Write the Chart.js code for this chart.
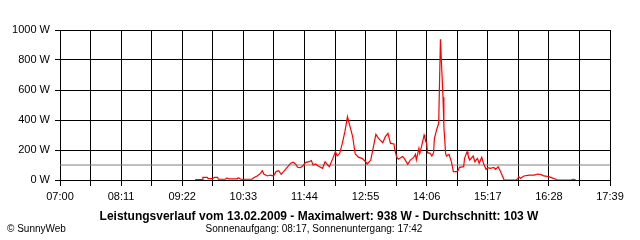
<!DOCTYPE html>
<html lang="de">
<head>
<meta charset="UTF-8">
<title>Leistungsverlauf</title>
<script src="https://cdn.jsdelivr.net/npm/chart.js"></script>
<style>
  body { margin: 0; background: #fff; }
  canvas { display: block; }
</style>
</head>
<body>
<canvas id="chart" width="640" height="240"></canvas>
<script>
// x axis labels (every second grid line carries one)
const tickLabels = ['07:00', '08:11', '09:22', '10:33', '11:44', '12:55', '14:06', '15:17', '16:28', '17:39'];
const yTicks = [0, 200, 400, 600, 800, 1000];

// power readings
const times = [
  '09:37', '09:45', '09:46', '09:51', '09:52', '09:57', '10:00', '10:03', '10:04', '10:12',
  '10:14', '10:16', '10:26', '10:27', '10:30', '10:43', '10:45', '10:49', '10:53', '10:55',
  '10:57', '11:01', '11:04', '11:08', '11:11', '11:14', '11:17', '11:22', '11:28', '11:31',
  '11:34', '11:36', '11:39', '11:42', '11:45', '11:49', '11:52', '11:54', '11:57', '12:00',
  '12:05', '12:08', '12:11', '12:13', '12:17', '12:20', '12:22', '12:25', '12:28', '12:31',
  '12:33', '12:34', '12:36', '12:40', '12:43', '12:47', '12:51', '12:55', '12:57', '13:01',
  '13:03', '13:07', '13:10', '13:15', '13:18', '13:21', '13:24', '13:28', '13:29', '13:31',
  '13:33', '13:38', '13:40', '13:44', '13:47', '13:51', '13:53', '13:54', '13:57', '13:58',
  '14:00', '14:03', '14:04', '14:06', '14:07', '14:10', '14:12', '14:14', '14:15', '14:18',
  '14:20', '14:21', '14:22', '14:23', '14:25', '14:26', '14:28', '14:29', '14:32', '14:35',
  '14:37', '14:41', '14:43', '14:44', '14:49', '14:50', '14:53', '14:54', '14:56', '15:00',
  '15:02', '15:05', '15:07', '15:10', '15:12', '15:15', '15:17', '15:20', '15:24', '15:26',
  '15:29', '15:31', '15:34', '15:36', '15:50', '15:52', '15:53', '15:55', '15:59', '16:05',
  '16:11', '16:15', '16:19', '16:22', '16:28', '16:33', '16:36', '16:37', '16:54', '16:56',
  '16:57', '16:59'
];
const watts = [
  3, 3, 18, 18, 9, 9, 18, 18, 5, 5,
  13, 7, 7, 15, 5, 5, 15, 27, 44, 62,
  38, 27, 33, 27, 56, 62, 38, 71, 112, 118,
  104, 85, 82, 93, 116, 122, 129, 100, 107, 93,
  78, 122, 100, 89, 144, 189, 160, 178, 244, 322,
  389, 422, 378, 289, 173, 151, 144, 122, 107, 133,
  189, 304, 278, 249, 289, 311, 244, 240, 200, 156,
  138, 156, 144, 104, 133, 151, 171, 133, 211, 178,
  222, 300, 278, 244, 182, 178, 160, 182, 278, 344,
  378, 667, 938, 804, 551, 356, 178, 160, 171, 116,
  56, 56, 67, 84, 89, 144, 189, 167, 133, 160,
  122, 144, 111, 151, 111, 71, 82, 78, 84, 71,
  89, 67, 27, 0, 0, 11, 22, 11, 27, 33,
  33, 40, 36, 27, 22, 11, 5, 0, 0, 5,
  5, 0
];
const refLine = 100;

const title = 'Leistungsverlauf vom 13.02.2009 - Maximalwert: 938 W - Durchschnitt: 103 W';
const subtitle = 'Sonnenaufgang: 08:17, Sonnenuntergang: 17:42';
const credit = '\u00a9 SunnyWeb';

const toMin = s => {
  const [h, m] = s.split(':').map(Number);
  return h * 60 + m;
};
const labelMins = tickLabels.map(toMin);
const gridMins = [];
labelMins.forEach((v, i) => {
  gridMins.push(v);
  if (i < labelMins.length - 1) gridMins.push((v + labelMins[i + 1]) / 2);
});
const xMin = labelMins[0];
const xMax = labelMins[labelMins.length - 1];

Chart.defaults.font.family = "'Liberation Sans', Arial, sans-serif";
Chart.defaults.font.size = 11;
Chart.defaults.color = '#000';

const footer = {
  id: 'footer',
  afterDraw(chart) {
    const c = chart.ctx;
    c.save();
    c.fillStyle = '#000';
    c.textBaseline = 'middle';
    c.textAlign = 'center';
    c.font = "bold 12px 'Liberation Sans', Arial, sans-serif";
    c.fillText(title, 319, 217);
    c.font = "10px 'Liberation Sans', Arial, sans-serif";
    c.fillText(subtitle, 314, 229);
    c.textAlign = 'left';
    c.fillText(credit, 7, 229);
    c.restore();
  }
};

new Chart(document.getElementById('chart'), {
  type: 'line',
  data: {
    datasets: [{
      data: times.map((t, i) => ({ x: toMin(t), y: watts[i] })),
      borderColor: '#ff0000',
      borderWidth: 1.2,
      pointRadius: 0,
      tension: 0,
      fill: false
    }, {
      data: [{ x: xMin, y: refLine }, { x: xMax, y: refLine }],
      borderColor: '#808080',
      borderWidth: 1,
      pointRadius: 0,
      fill: false
    }]
  },
  options: {
    responsive: false,
    animation: false,
    devicePixelRatio: 1,
    layout: { padding: { top: 30, right: 30, left: 0, bottom: 0 } },
    plugins: {
      legend: { display: false },
      tooltip: { enabled: false }
    },
    scales: {
      x: {
        type: 'linear',
        min: xMin,
        max: xMax,
        afterBuildTicks: s => { s.ticks = gridMins.map(v => ({ value: v })); },
        afterFit: s => { s.height = 60; },
        grid: { color: '#000', lineWidth: 1, tickLength: 6 },
        border: { color: '#000', z: 1 },
        ticks: {
          autoSkip: false,
          maxRotation: 0,
          padding: 4,
          callback: v => {
            const i = labelMins.indexOf(v);
            return i >= 0 ? tickLabels[i] : '';
          }
        }
      },
      y: {
        min: 0,
        max: 1000,
        afterBuildTicks: s => { s.ticks = yTicks.map(v => ({ value: v })); },
        afterFit: s => { s.width = 60; },
        grid: { color: '#000', lineWidth: 1, tickLength: 5 },
        border: { color: '#000' },
        ticks: {
          padding: 5,
          callback: v => v + ' W'
        }
      }
    }
  },
  plugins: [footer]
});
</script>
</body>
</html>
